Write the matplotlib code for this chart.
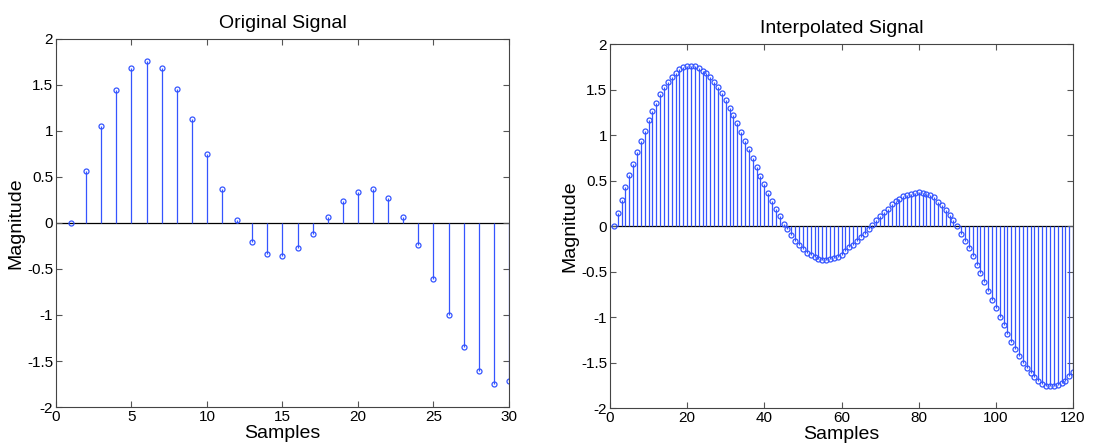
import numpy as np
import matplotlib
matplotlib.use("Agg")
import matplotlib.pyplot as plt

# values
orig_samples = np.arange(1, 31)
orig_values = [0.0, 0.56, 1.05, 1.45, 1.68, 1.76, 1.68, 1.46, 1.13, 0.75,
               0.37, 0.03, -0.21, -0.34, -0.36, -0.27, -0.12, 0.065, 0.24, 0.34,
               0.37, 0.27, 0.065, -0.24, -0.61, -1.0, -1.35, -1.61, -1.75, -1.72]

interp_samples = np.arange(1, 121)
interp_values = [0.0, 0.15, 0.29, 0.43, 0.56, 0.69, 0.82, 0.94, 1.05, 1.17,
                 1.27, 1.36, 1.45, 1.53, 1.59, 1.64, 1.68, 1.725, 1.747, 1.765,
                 1.76, 1.765, 1.745, 1.71, 1.68, 1.64, 1.585, 1.53, 1.46, 1.385,
                 1.30, 1.22, 1.13, 1.04, 0.94, 0.85, 0.75, 0.65, 0.55, 0.465,
                 0.37, 0.28, 0.19, 0.11, 0.03, -0.035, -0.10, -0.157, -0.21, -0.25,
                 -0.29, -0.32, -0.34, -0.355, -0.365, -0.37, -0.36, -0.35, -0.335, -0.31,
                 -0.27, -0.23, -0.20, -0.16, -0.12, -0.08, -0.035, 0.015, 0.065, 0.115,
                 0.155, 0.195, 0.24, 0.275, 0.305, 0.33, 0.345, 0.36, 0.37, 0.375,
                 0.37, 0.36, 0.345, 0.32, 0.27, 0.23, 0.18, 0.125, 0.065, 0.0,
                 -0.08, -0.16, -0.24, -0.33, -0.42, -0.51, -0.61, -0.71, -0.81, -0.90,
                 -1.0, -1.09, -1.18, -1.27, -1.35, -1.43, -1.50, -1.56, -1.61, -1.656,
                 -1.70, -1.73, -1.75, -1.76, -1.76, -1.745, -1.72, -1.70, -1.65, -1.60]

y_ticks = [-2, -1.5, -1, -0.5, 0, 0.5, 1, 1.5, 2]
y_labels = ["-2", "-1.5", "-1", "-0.5", "0", "0.5", "1", "1.5", "2"]

plt.rcParams["font.family"] = ["Liberation Sans", "DejaVu Sans"]
blue = "#3555ff"

fig = plt.figure(figsize=(11.04, 4.48), dpi=100)
ax1 = fig.add_axes([0.0507, 0.0915, 0.4103, 0.8215])
ax2 = fig.add_axes([0.5525, 0.0886, 0.4195, 0.8125])


def draw_stem(ax, x, y, xmax, xticks, title):
    markers, stems, base = ax.stem(x, y, linefmt="-", markerfmt="o", basefmt=" ")
    plt.setp(stems, color=blue, linewidth=0.9)
    plt.setp(markers, markeredgecolor=blue, markerfacecolor="none",
             markersize=3.6, markeredgewidth=0.9)
    ax.axhline(0, color="black", linewidth=0.9, zorder=1)
    ax.set_xlim(0, xmax)
    ax.set_ylim(-2, 2)
    ax.set_xticks(xticks)
    ax.set_yticks(y_ticks)
    ax.set_yticklabels(y_labels)
    ax.tick_params(direction="in", top=True, right=True, length=4,
                   labelsize=11, pad=2, color="#555555")
    for s in ax.spines.values():
        s.set_linewidth(0.8)
        s.set_color("#444444")
    ax.set_title(title, fontsize=14, pad=8)
    ax.set_xlabel("Samples", fontsize=14, labelpad=1)
    ax.set_ylabel("Magnitude", fontsize=14, labelpad=2)


draw_stem(ax1, orig_samples, orig_values, 30, [0, 5, 10, 15, 20, 25, 30], "Original Signal")
draw_stem(ax2, interp_samples, interp_values, 120, [0, 20, 40, 60, 80, 100, 120], "Interpolated Signal")

fig.savefig("out.png", dpi=100)
